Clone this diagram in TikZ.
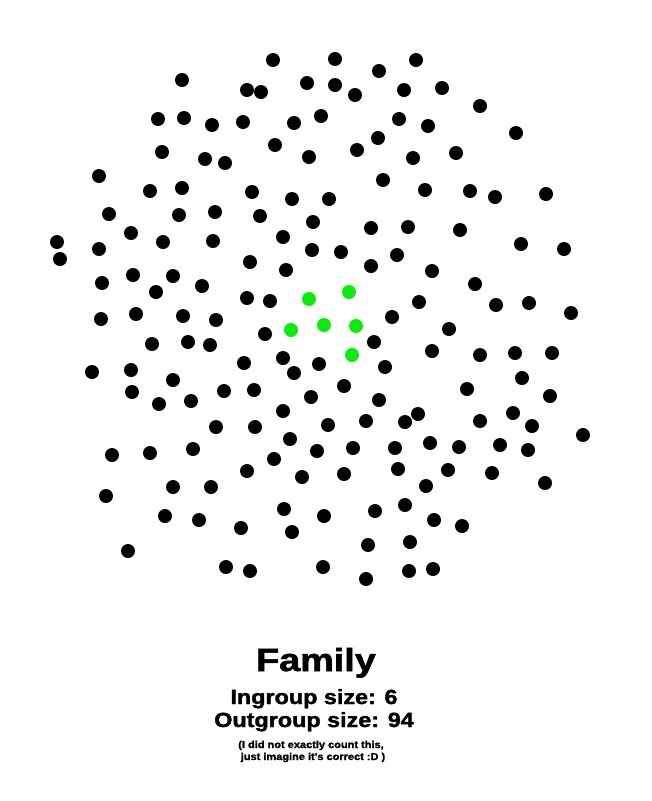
\documentclass[tikz,border=0pt]{standalone}
\usepackage{fontspec}
\setmainfont{Liberation Sans}
\newfontfamily\heavyfont{Liberation Sans Bold}[FakeBold=1.6]
\definecolor{ingreen}{RGB}{12,236,12}
\tikzset{
  dot/.style={circle,fill=black,inner sep=0pt,minimum size=14pt},
  gdot/.style={circle,fill=ingreen,inner sep=0pt,minimum size=14pt},
  lbl/.style={anchor=base,inner sep=0pt}
}
\begin{document}
\begin{tikzpicture}[x=1pt,y=-1pt]
\useasboundingbox (0,0) rectangle (651,801);
\foreach \x/\y [count=\i] in {
273/60,182/80,247/90,261/92,307/83,158/119,184/118,212/125,243/122,294/123,
321/116,162/152,275/145,205/159,225/163,309/157,99/176,150/191,182/188,252/192,
292/199,109/214,179/215,215/212,260/216,313/222,
335/59,416/60,379/71,335/85,355/95,404/90,442/88,480/106,399/119,428/126,
516/133,378/138,357/150,413/158,456/153,383/180,425/190,470/191,495/197,546/194,329/199,
131/233,57/242,60/259,99/249,163/242,213/241,283/237,312/250,250/262,286/270,
102/283,133/275,173/276,156/292,202/286,247/298,270/301,101/319,136/314,183/316,
216/320,265/334,152/344,188/342,210/345,92/372,131/370,173/380,244/363,283/358,
294/373,319/364,132/392,159/404,191/401,224/391,254/390,311/397,
371/228,408/227,460/230,341/252,397/255,371/266,521/244,564/249,432/271,475/284,
419/302,496/305,529/303,571/313,392/317,449/329,374/342,432/351,480/355,515/353,
552/353,385/367,522/378,344/386,467/389,550/396,379/400,
283/411,216/427,255/427,290/439,328/425,112/455,150/453,193/449,274/459,317/451,
247/471,302/477,106/496,173/487,211/487,284/509,324/516,165/516,199/520,241/528,
292/532,128/551,226/567,250/571,323/567,
366/421,405/422,418/414,480/421,513/413,532/426,583/435,353/448,395/448,430/443,
459/447,500/445,528/450,344/474,398/469,448/470,492/473,426/486,545/483,375/511,
405/505,434/520,462/526,368/545,410/542,366/579,409/571,433/569}
  \node[dot] (d\i) at (\x,\y) {};
\foreach \x/\y [count=\i] in {309/299,291/330,324/325,349/292,356/326,352/355}
  \node[gdot] (g\i) at (\x,\y) {};
\node[lbl,font=\heavyfont\fontsize{32}{32}\selectfont] (title) at (316,671) {\scalebox{1.18}[1]{Family}};
\node[lbl,font=\heavyfont\fontsize{20.5}{20.5}\selectfont] (ingroup) at (314,704) {\scalebox{1.14}[1]{Ingroup size: 6}};
\node[lbl,font=\heavyfont\fontsize{20.5}{20.5}\selectfont] (outgroup) at (314,727) {\scalebox{1.14}[1]{Outgroup size: 94}};
\node[lbl,font=\heavyfont\fontsize{10}{10}\selectfont] (note1) at (311,748) {\scalebox{1.1}[1]{(I did not exactly count this,}};
\node[lbl,font=\heavyfont\fontsize{10}{10}\selectfont] (note2) at (313,760) {\scalebox{1.1}[1]{just imagine it's correct :D )}};
\end{tikzpicture}
\end{document}
